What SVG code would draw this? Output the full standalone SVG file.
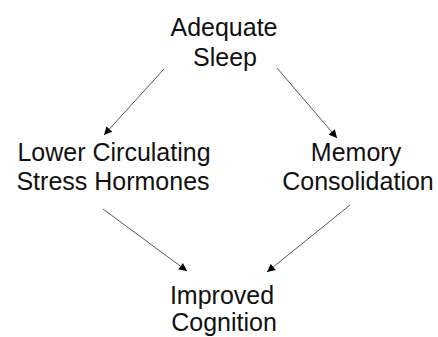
<svg xmlns="http://www.w3.org/2000/svg" width="438" height="337" viewBox="0 0 438 337">
<style>
text{font-family:"Liberation Sans",Arial,sans-serif;font-size:25px;fill:#111;text-anchor:middle}
.c{stroke:#555;stroke-width:1;fill:none;marker-end:url(#ah)}
</style>
<defs>
<marker id="ah" viewBox="0 0 10 10" refX="10" refY="5" markerWidth="9" markerHeight="8" markerUnits="userSpaceOnUse" orient="auto">
<path d="M0,0 L10,5 L0,10 z" fill="#000"/>
</marker>
</defs>
<rect width="438" height="337" fill="#fff"/>
<g id="connectors">
<line class="c" x1="164" y1="69" x2="104" y2="135"/>
<line class="c" x1="277" y1="68" x2="337" y2="138"/>
<line class="c" x1="103" y1="209" x2="187" y2="271"/>
<line class="c" x1="350" y1="205" x2="267" y2="272"/>
</g>
<g id="adequate-sleep">
<text x="224" y="36">Adequate</text>
<text x="225" y="66">Sleep</text>
</g>
<g id="lower-stress-hormones">
<text x="114" y="161">Lower Circulating</text>
<text x="113" y="190">Stress Hormones</text>
</g>
<g id="memory-consolidation">
<text x="356" y="161">Memory</text>
<text x="358" y="190">Consolidation</text>
</g>
<g id="improved-cognition">
<text x="222" y="304">Improved</text>
<text x="224" y="331">Cognition</text>
</g>
</svg>
